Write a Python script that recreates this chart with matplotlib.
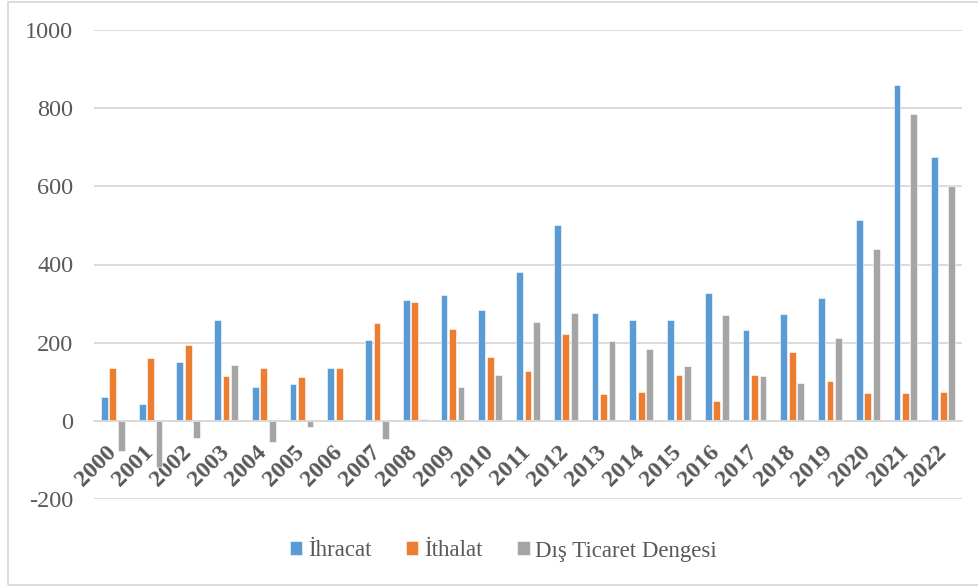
import numpy as np
import matplotlib.pyplot as plt
from matplotlib.patches import Rectangle
import matplotlib.transforms as mtransforms

# Data
years = [str(y) for y in range(2000, 2023)]
ihracat = [61, 43, 151, 259, 86, 95, 136, 207, 309, 321, 283, 382, 500, 275, 259, 258,
           326, 232, 273, 315, 513, 858, 675]
ithalat = [136, 160, 194, 114, 136, 111, 135, 251, 303, 234, 163, 128, 222, 69, 75, 116,
           52, 116, 175, 101, 72, 71, 74]
denge = [-76, -117, -45, 144, -53, -15, -1, -46, 5, 87, 118, 252, 276, 204, 183, 141,
         272, 115, 97, 213, 439, 785, 600]

series_names = ["İhracat", "İthalat", "Dış Ticaret Dengesi"]
colors = ["#5B9BD5", "#ED7D31", "#A5A5A5"]
text_color = "#595959"
grid_color = "#D9D9D9"

plt.rcParams["font.family"] = ["Liberation Serif", "DejaVu Serif"]
plt.rcParams["axes.unicode_minus"] = False

fig = plt.figure(figsize=(9.79, 5.87), dpi=100)
ax = fig.add_axes([94 / 979, 1 - 499 / 587, (962 - 94) / 979, (499 - 30) / 587])

x = np.arange(len(years))
bar_w = 0.18
step = 0.225
handles = []
for i, (vals, name) in enumerate(zip([ihracat, ithalat, denge], series_names)):
    h = ax.bar(x + (i - 1) * step, vals, width=bar_w, color=colors[i],
               edgecolor="white", linewidth=0.4, label=name, zorder=3)
    handles.append(h)

ax.set_xlim(-0.5, len(years) - 0.5)
ax.set_ylim(-200, 1000)
ax.set_yticks(range(-200, 1001, 200))
ax.yaxis.grid(True, color=grid_color, linewidth=1.3, zorder=0)

for s in ["top", "right", "left"]:
    ax.spines[s].set_visible(False)
ax.spines["bottom"].set_position(("data", 0))
ax.spines["bottom"].set_color(grid_color)
ax.spines["bottom"].set_linewidth(1.3)
ax.spines["bottom"].set_zorder(4)

ax.tick_params(axis="y", length=0, pad=15, labelsize=17.5, labelcolor=text_color)
ax.tick_params(axis="x", length=0, pad=4)
ax.set_xticks(x)
ax.set_xticklabels(years, rotation=45, ha="right", va="top", rotation_mode="anchor",
                   fontsize=17.5, fontweight="bold", color=text_color)
offset = mtransforms.ScaledTranslation(-5.5 / 72, -11 / 72, fig.dpi_scale_trans)
for lbl in ax.get_xticklabels():
    lbl.set_transform(lbl.get_transform() + offset)
    lbl.set_zorder(2)

leg = fig.legend(handles=handles, labels=series_names, loc="center",
                 bbox_to_anchor=(0.514, 1 - 551 / 587), ncol=3, frameon=False,
                 fontsize=16.5, handlelength=0.55, handleheight=0.55, handletextpad=0.25,
                 columnspacing=1.5)
for t in leg.get_texts():
    t.set_color(text_color)

# chart border
fig.patches.append(Rectangle((8 / 979, 2 / 587), 1.0, 1 - 4 / 587,
                             transform=fig.transFigure, fill=False,
                             edgecolor=grid_color, linewidth=1.3))

fig.savefig("out.png", dpi=100)
